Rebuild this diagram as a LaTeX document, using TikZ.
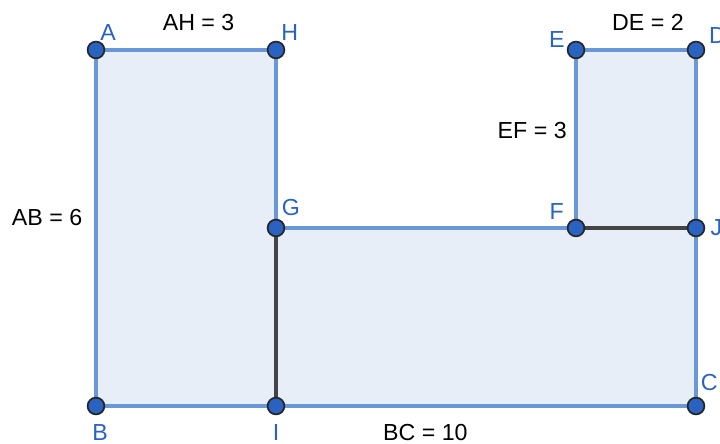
\documentclass[tikz,border=0pt]{standalone}
\usepackage{fontspec}
\setmainfont{Liberation Sans}
\usetikzlibrary{positioning}
\definecolor{ggbedge}{RGB}{104,152,214}
\definecolor{ggbfill}{RGB}{232,238,248}
\definecolor{ggbpt}{RGB}{41,98,192}
\definecolor{ggbdark}{RGB}{68,68,68}
\tikzset{
  pt/.style={circle, fill=ggbpt, draw=black!85, line width=0.8pt, inner sep=0pt, minimum size=2.8mm},
  ptlabel/.style={text=ggbpt, font=\fontsize{11}{12}\selectfont, inner sep=0pt},
  lenlabel/.style={font=\fontsize{11}{12}\selectfont, inner sep=0pt}
}

\begin{document}
\begin{tikzpicture}[x=1cm, y=0.989cm]
  \useasboundingbox (-1.6,-0.624) rectangle (10.4,6.842);
  \clip (-1.6,-0.624) rectangle (10.4,6.842);

  % vertices
  \coordinate (A) at (0,6);
  \coordinate (B) at (0,0);
  \coordinate (I) at (3,0);
  \coordinate (C) at (10,0);
  \coordinate (J) at (10,3);
  \coordinate (D) at (10,6);
  \coordinate (E) at (8,6);
  \coordinate (F) at (8,3);
  \coordinate (G) at (3,3);
  \coordinate (H) at (3,6);

  % polygon
  \filldraw[fill=ggbfill, draw=ggbedge, line width=1.9pt, line join=round]
    (A) -- (B) -- (C) -- (D) -- (E) -- (F) -- (G) -- (H) -- cycle;

  % inner segments
  \draw[ggbdark, line width=1.9pt] (G) -- (I);
  \draw[ggbdark, line width=1.9pt] (F) -- (J);

  % points
  \foreach \p in {A,B,C,D,E,F,G,H,I,J}
    \node[pt] (pt\p) at (\p) {};

  % point names
  \node[ptlabel] at (0.2, 6.30) {A};
  \node[ptlabel] at (3.23, 6.30) {H};
  \node[ptlabel] at (7.68, 6.17) {E};
  \node[ptlabel] at (10.36, 6.25) {D};
  \node[ptlabel] at (3.25, 3.35) {G};
  \node[ptlabel] at (7.68, 3.27) {F};
  \node[ptlabel] at (10.34, 3.0) {J};
  \node[ptlabel] at (0.07, -0.455) {B};
  \node[ptlabel] at (3.0, -0.455) {I};
  \node[ptlabel] at (10.22, 0.39) {C};

  % lengths
  \node[lenlabel] at (1.71, 6.47) {AH = 3};
  \node[lenlabel] at (9.2, 6.47) {DE = 2};
  \node[lenlabel] at (7.27, 4.65) {EF = 3};
  \node[lenlabel] at (-0.815, 3.17) {AB = 6};
  \node[lenlabel] at (5.49, -0.455) {BC = 10};
\end{tikzpicture}
\end{document}
